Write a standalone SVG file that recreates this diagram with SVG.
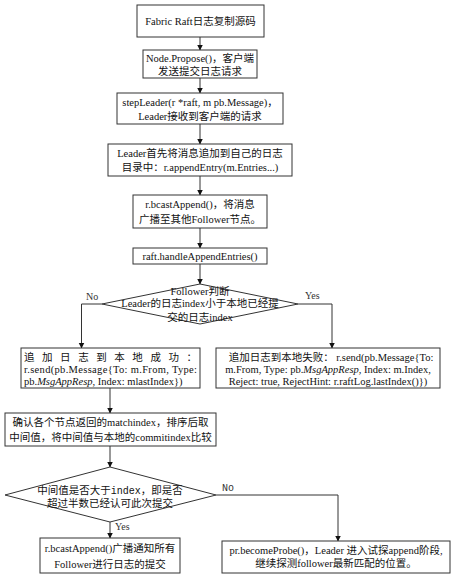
<svg xmlns="http://www.w3.org/2000/svg" width="460" height="578" viewBox="0 0 460 578">
<style>
.box{fill:#fff;stroke:#333;stroke-width:1}
.ln{fill:none;stroke:#333;stroke-width:1}
text{font-family:"Liberation Serif","Noto Sans CJK SC",serif;font-size:10.5px;fill:#111}
.c{text-anchor:middle}
.mono{font-family:"Liberation Mono","Noto Sans CJK SC",monospace;font-size:10px}
.lbl{font-size:10px;fill:#333}
</style>
<defs>
<marker id="ah" markerWidth="6" markerHeight="7" refX="5.5" refY="3.5" orient="auto" markerUnits="userSpaceOnUse">
<path d="M0,0.5 L6,3.5 L0,6.5 Z" fill="#111"/>
</marker>
</defs>
<rect width="460" height="578" fill="#fff"/>
<g id="connectors">
<line class="ln" x1="200" y1="37" x2="200" y2="50" marker-end="url(#ah)"/>
<line class="ln" x1="200" y1="78" x2="200" y2="93" marker-end="url(#ah)"/>
<line class="ln" x1="200" y1="124" x2="200" y2="144" marker-end="url(#ah)"/>
<line class="ln" x1="200" y1="176" x2="200" y2="195" marker-end="url(#ah)"/>
<line class="ln" x1="200" y1="228" x2="200" y2="248" marker-end="url(#ah)"/>
<line class="ln" x1="200" y1="264" x2="200" y2="284" marker-end="url(#ah)"/>
<polyline class="ln" points="102,304 81.5,304 81.5,348" marker-end="url(#ah)"/>
<polyline class="ln" points="298,304 332,304 332,348" marker-end="url(#ah)"/>
<line class="ln" x1="110" y1="388" x2="110" y2="413" marker-end="url(#ah)"/>
<line class="ln" x1="110" y1="446" x2="110" y2="467" marker-end="url(#ah)"/>
<polyline class="ln" points="216,495 338,495 338,541" marker-end="url(#ah)"/>
<line class="ln" x1="110" y1="522" x2="110" y2="538" marker-end="url(#ah)"/>
<text class="lbl" x="86" y="300">No</text>
<text class="lbl" x="305" y="299">Yes</text>
<text class="lbl mono" x="222" y="491">No</text>
<text class="lbl" x="115" y="530">Yes</text>
</g>
<g id="n1">
<rect class="box" x="137" y="5" width="127" height="32"/>
<text class="c" x="200.5" y="25">Fabric Raft日志复制源码</text>
</g>
<g id="n2">
<rect class="box" x="143" y="50" width="114" height="28"/>
<text class="c" x="200" y="62">Node.Propose()，客户端</text>
<text class="c" x="200" y="75">发送提交日志请求</text>
</g>
<g id="n3">
<rect class="box" x="117" y="93" width="166" height="31"/>
<text class="c" x="200" y="106">stepLeader(r *raft, m pb.Message)，</text>
<text class="c" x="200" y="120">Leader接收到客户端的请求</text>
</g>
<g id="n4">
<rect class="box" x="108" y="144" width="184" height="32"/>
<text class="c" x="200" y="157">Leader首先将消息追加到自己的日志</text>
<text class="c" x="200" y="171">目录中：r.appendEntry(m.Entries...)</text>
</g>
<g id="n5">
<rect class="box" x="133" y="195" width="134" height="33"/>
<text class="c" x="200" y="208">r.bcastAppend()，将消息</text>
<text class="c" x="200" y="223">广播至其他Follower节点。</text>
</g>
<g id="n6">
<rect class="box" x="133" y="248" width="134" height="16"/>
<text class="c" x="200" y="260">raft.handleAppendEntries()</text>
</g>
<g id="d1">
<polygon class="box" points="200,284 298,304 200,324 102,304"/>
<text class="c" x="200" y="295">Follower判断</text>
<text class="c" x="200" y="307">Leader的日志index小于本地已经提</text>
<text class="c" x="200" y="321">交的日志index</text>
</g>
<g id="n7">
<rect class="box" x="21" y="348" width="179" height="40"/>
<text x="24" y="361" textLength="173" lengthAdjust="spacing">追加日志到本地成功：</text>
<text x="24" y="373" textLength="173" lengthAdjust="spacing">r.send(pb.Message{To: m.From, Type:</text>
<text x="24" y="385">pb.<tspan font-style="italic">MsgAppResp</tspan>, Index: mlastIndex})</text>
</g>
<g id="n8">
<rect class="box" x="216" y="348" width="224" height="40"/>
<text class="c" x="331" y="361">追加日志到本地失败： r.send(pb.Message{To:</text>
<text class="c" x="328" y="373">m.From, Type: pb.<tspan font-style="italic">MsgAppResp</tspan>, Index: m.Index,</text>
<text class="c" x="328" y="385">Reject: true, RejectHint: r.raftLog.lastIndex()})</text>
</g>
<g id="n9">
<rect class="box" x="5" y="413" width="211" height="33"/>
<text class="c" x="110.5" y="426">确认各个节点返回的matchindex，排序后取</text>
<text class="c" x="110.5" y="441">中间值，将中间值与本地的commitindex比较</text>
</g>
<g id="d2">
<polygon class="box" points="110,467 216,495 110,522 5,495"/>
<text class="c" x="110" y="494">中间值是否大于<tspan class="mono">index</tspan>，即是否</text>
<text class="c" x="110" y="507">超过半数已经认可此次提交</text>
</g>
<g id="n10">
<rect class="box" x="40" y="538" width="140" height="35"/>
<text class="c" x="110" y="552">r.bcastAppend()广播通知所有</text>
<text class="c" x="110" y="568">Follower进行日志的提交</text>
</g>
<g id="n11">
<rect class="box" x="222" y="541" width="228" height="32"/>
<text class="c" x="336" y="554">pr.becomeProbe()，Leader 进入试探append阶段,</text>
<text class="c" x="336" y="567">继续探测follower最新匹配的位置。</text>
</g>
</svg>
